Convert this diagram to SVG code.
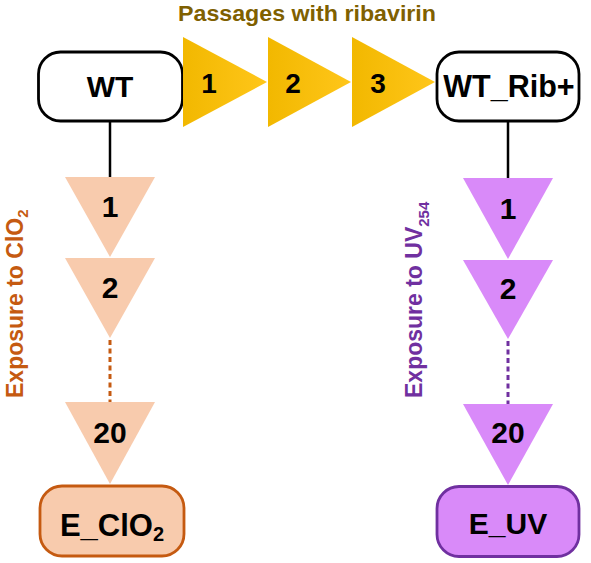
<svg xmlns="http://www.w3.org/2000/svg" width="591" height="563" viewBox="0 0 591 563">
<defs>
<linearGradient id="gold" x1="0" y1="0" x2="1" y2="0">
<stop offset="0" stop-color="#F2B800"/>
<stop offset="1" stop-color="#FFC61A"/>
</linearGradient>
<style>
text{font-family:"Liberation Sans",Arial,sans-serif;font-weight:bold;}
.lbl{fill:#000;text-anchor:middle;}
.box{fill:#fff;stroke:#000;stroke-width:2.8;}
.boxO{fill:#F8CBAD;stroke:#C55A11;stroke-width:2.8;}
.boxP{fill:#D98AF9;stroke:#7030A0;stroke-width:2.8;}
.triY{fill:url(#gold);}
.triO{fill:#F8CBAD;}
.triP{fill:#D98AF9;}
.solid{stroke:#000;stroke-width:2.5;fill:none;}
.dashO{stroke:#C55A11;stroke-width:3;stroke-dasharray:5 3.5;fill:none;}
.dashP{stroke:#7030A0;stroke-width:3;stroke-dasharray:5 3.5;fill:none;}
</style>
</defs>
<rect width="591" height="563" fill="#fff"/>
<text x="307" y="21" font-size="22" fill="#7F6000" text-anchor="middle" textLength="258" lengthAdjust="spacingAndGlyphs">Passages with ribavirin</text>
<g id="connectors">
<line class="solid" x1="110" y1="121" x2="110" y2="178"/>
<line class="solid" x1="508" y1="121" x2="508" y2="179"/>
<line class="dashO" x1="110" y1="340" x2="110" y2="402"/>
<line class="dashP" x1="508" y1="341" x2="508" y2="404"/>
</g>
<g id="WT">
<rect class="box" x="38.5" y="52" width="144" height="69" rx="22"/>
<text class="lbl" x="110" y="96.5" font-size="30">WT</text>
</g>
<g id="WT_Rib">
<rect class="box" x="437" y="52" width="142" height="69" rx="22"/>
<text class="lbl" x="509" y="96.5" font-size="30.5">WT_Rib+</text>
</g>
<g id="rib1">
<polygon class="triY" points="183,37 183,127 267,82"/>
<text class="lbl" x="209" y="93" font-size="28">1</text>
</g>
<g id="rib2">
<polygon class="triY" points="268,37 268,127 351,82"/>
<text class="lbl" x="293" y="93" font-size="28">2</text>
</g>
<g id="rib3">
<polygon class="triY" points="352,37 352,127 435,82"/>
<text class="lbl" x="378" y="93" font-size="28">3</text>
</g>
<g id="clo2_1">
<polygon class="triO" points="65,177 155,177 110,257"/>
<text class="lbl" x="110" y="217" font-size="30">1</text>
</g>
<g id="clo2_2">
<polygon class="triO" points="65,258 155,258 110,338"/>
<text class="lbl" x="110" y="298" font-size="30">2</text>
</g>
<g id="clo2_20">
<polygon class="triO" points="65,402 155,402 110,484"/>
<text class="lbl" x="110" y="443" font-size="30">20</text>
</g>
<g id="E_ClO2">
<rect class="boxO" x="40" y="486" width="144" height="70" rx="22"/>
<text class="lbl" x="112" y="536" font-size="31">E_ClO<tspan font-size="20" dy="5">2</tspan></text>
</g>
<g id="uv_1">
<polygon class="triP" points="463,178 553,178 508,259"/>
<text class="lbl" x="508" y="219" font-size="30">1</text>
</g>
<g id="uv_2">
<polygon class="triP" points="463,260 553,260 508,339"/>
<text class="lbl" x="508" y="299" font-size="30">2</text>
</g>
<g id="uv_20">
<polygon class="triP" points="463,404 553,404 508,485"/>
<text class="lbl" x="508" y="443" font-size="30">20</text>
</g>
<g id="E_UV">
<rect class="boxP" x="437" y="486.5" width="142" height="70" rx="22"/>
<text class="lbl" x="508" y="534" font-size="30">E_UV</text>
</g>
<g id="label_clo2">
<text transform="translate(23,398) rotate(-90)" font-size="23" fill="#C55A11">Exposure to ClO<tspan font-size="15" dy="5">2</tspan></text>
</g>
<g id="label_uv">
<text transform="translate(422,398) rotate(-90)" font-size="23" fill="#7030A0">Exposure to UV<tspan font-size="15" dy="7">254</tspan></text>
</g>
</svg>
